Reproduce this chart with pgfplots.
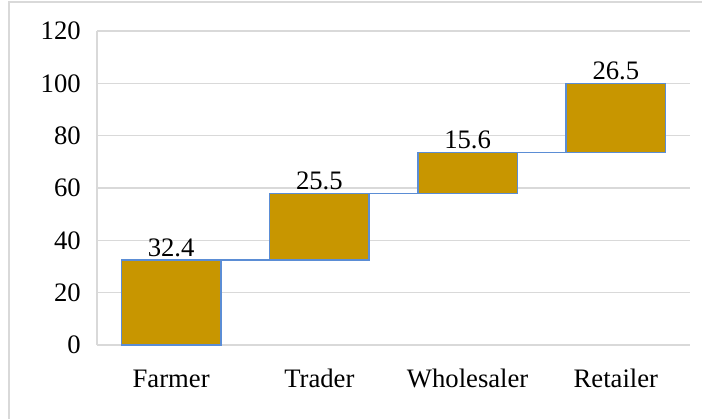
\documentclass[border=0pt]{standalone}
\usepackage{fontspec}
\setmainfont{Liberation Serif}
\usepackage{pgfplots}
\usepackage{pgfplotstable}
\pgfplotsset{compat=1.18}
\definecolor{barfill}{RGB}{200,150,0}
\definecolor{baredge}{RGB}{91,141,213}
\definecolor{gridc}{RGB}{217,217,217}
\pgfplotstableread{
x base inc top
0 0 32.4 32.4
1 32.4 25.5 57.9
2 57.9 15.6 73.5
3 73.5 26.5 100.0
}\waterfall
\pgfplotstableread{
x y
0.335 32.4
0.665 32.4
1.335 57.9
1.665 57.9
2.335 73.5
2.665 73.5
}\connectors
\pgfplotsset{frame/.style={
  at={(0pt,0pt)}, anchor=south west,
  scale only axis, width=444.75pt, height=235.5pt,
  xmin=-0.5, xmax=3.5, ymin=0, ymax=120, clip=false}}
\begin{document}
\begin{tikzpicture}
\useasboundingbox (-72.75pt,-54.75pt) rectangle (453.75pt,258.75pt);
\draw[gridc, line width=0.9pt] (-66pt,-60pt) -- (-66pt,257.25pt) -- (470pt,257.25pt);
\begin{axis}[
  frame,
  ytick={0,20,...,120},
  xtick={0,1,2,3},
  xticklabels={Farmer,Trader,Wholesaler,Retailer},
  ybar stacked, bar width=0.67,
  axis lines*=left,
  axis line style={gridc, line width=1.2pt, -},
  ymajorgrids, grid style={gridc, line width=1.2pt},
  major tick length=0pt,
  /pgf/number format/assume math mode=true,
  tick label style={font=\fontsize{20}{24}\selectfont, text=black},
  yticklabel style={anchor=east, inner sep=0pt, xshift=-12pt},
  xticklabel style={anchor=base, inner sep=0pt, yshift=-31.5pt},
]
\addplot[draw=none, fill=none] table[x=x, y=base] {\waterfall};
\addplot[fill=barfill, draw=baredge, line width=1.1pt] table[x=x, y=inc] {\waterfall};
\end{axis}
\begin{axis}[frame, hide axis]
\addplot[draw=baredge, line width=1.1pt, mark=none, unbounded coords=jump]
  coordinates {(0.335,32.4) (0.665,32.4) (nan,nan) (1.335,57.9) (1.665,57.9) (nan,nan) (2.335,73.5) (2.665,73.5)};
\addplot[draw=none, mark=none,
  nodes near coords, point meta=explicit symbolic,
  every node near coord/.style={font=\fontsize{20}{24}\selectfont, text=black, anchor=base, inner sep=0pt, yshift=3pt}]
  table[x=x, y=top, meta=inc] {\waterfall};
\end{axis}
\end{tikzpicture}
\end{document}
